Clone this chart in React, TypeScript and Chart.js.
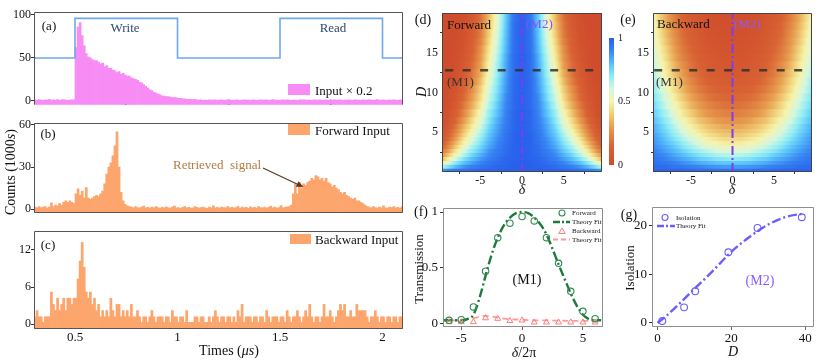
import React, { useEffect, useRef } from "react";
import { Chart, registerables } from "chart.js";

Chart.register(...registerables);

const SERIF = "'Liberation Serif', 'Times New Roman', Times, serif";

// ---------------- (a)-(c): photon-count histograms, bins of 0.01 µs ----------------
const BIN_FIRST = 0.305; // centre of first bin (µs)
const BIN_STEP = 0.01;
const TIME_TICKS = [0.5, 1, 1.5, 2];

const inputCounts = [
  1.2, 0.8, 1.5, 1, 0.6, 1.3, 1, 1.8, 0.9, 1.2, 1, 1.5, 0.7, 1.2, 1.6, 1, 0.8, 1.3, 1.1, 1.6,
  62, 86, 91, 76, 64, 55, 51, 50, 48, 47,
  47, 45, 43, 44, 40, 41, 38, 38, 36, 35,
  33, 34, 31, 32, 30, 29, 29, 27, 26, 25,
  24, 22, 21, 19, 17, 15, 13, 12, 10, 9,
  8, 7, 6, 5.5, 5, 5, 4.5, 4, 4, 3.5,
  3, 3, 2.5, 2.5, 2, 2, 2, 1.5, 1.8, 1.2,
  1, 1.3, 0.8, 1.1, 0.7, 1.2, 1, 0.9, 1.4, 0.8,
  1, 1.2, 0.6, 1, 1.3, 0.9, 1.1, 0.8, 1.2, 1,
  0.7, 1.1, 1.4, 0.9, 1, 0.8, 1.2, 1, 0.6, 1.1,
  1.3, 0.9, 1, 1.2, 0.8, 1, 1.5, 0.9, 1.1, 0.7,
  1, 1.2, 0.9, 1.3, 1, 0.8, 1.1, 1, 0.6, 1.2,
  1, 1.4, 0.9, 1, 1.1, 0.8, 1.2, 1, 0.9, 1.3,
  0.8, 1, 1.2, 0.7, 1.1, 1, 1.3, 0.9, 1, 1.2,
  0.8, 1.1, 1, 1.4, 0.9, 0.7, 1.2, 1, 1.1, 0.8,
  1.3, 1, 0.9, 1.2, 1, 0.8, 1.1, 1.5, 0.9, 1,
  1.2, 0.8, 1, 1.1, 0.9, 1.3, 1, 0.7, 1.2, 1,
];

const forwardCounts = [
  1.5, 1, 2, 1, 1.5, 2, 0.8, 1.5,
  4.5, 2, 3, 2.5, 4, 3, 5, 6, 5, 6, 5, 4,
  11, 14.5, 10, 13, 8, 15.5, 8, 7, 8, 9,
  10, 9, 11, 13, 18, 25, 30, 33, 38, 45,
  55, 30, 12, 6, 3.5, 2.5,
  2, 1.5, 1, 2, 1.2, 0.8, 1.5, 2.2, 1, 1.3,
  0.8, 1.6, 1, 2, 1.2, 0.7, 1.4, 1, 1.8, 1.1,
  0.9, 1.5, 2.3, 1, 1.2, 0.6, 1.4, 1.9, 1, 1.3,
  0.8, 1.1, 2, 1.4, 0.9, 1.2, 1.6, 1, 0.7, 1.5,
  1.1, 2.4, 1, 1.3, 0.8, 1.6, 1.2, 1, 1.9, 0.9,
  1.4, 1, 1.2, 2.1, 0.8, 1.5, 1, 1.3, 0.7, 1.8,
  1.1, 1.4, 0.9, 2, 1.2, 1, 1.6, 0.8, 1.3, 2.2,
  1, 1.5, 0.9, 1.2, 2.6, 1, 1.4, 1.7, 2,
  3, 11, 18, 11, 19, 15, 18, 17, 19, 20,
  22, 21, 24, 23, 21, 22, 20, 22, 19, 18,
  16, 17, 15, 14, 12, 11, 12, 10, 9, 8,
  7, 8, 6, 6, 5, 4, 3, 2,
  1.5, 1, 2, 1.2, 0.8, 1.6, 1, 2.4, 1.1, 0.9, 1.5, 1.2, 2, 1, 1.4, 0.8, 1.7,
];

const backwardCounts = [
  1.2, 2.2, 1.2, 1.2, 0.3, 1.2, 1.2, 1.2, 5.2, 3.2,
  2.2, 4.2, 2.2, 3.2, 4.2, 2.2, 4.2, 4.2, 3.2, 4.2,
  4.2, 7.3, 10.2, 13.2, 9.2, 5.2, 4.2, 5.2, 3.2, 4.2,
  2.2, 3.2, 1.2, 2.2, 1.2, 2.2, 1.2, 4.2, 2.2, 1.2,
  3.2, 3.2, 1.2, 2.2, 1.2, 2.2, 1.2, 3.2, 1.2, 1.2,
  2.2, 1.2, 0.3, 1.2, 1.2, 0.3, 1.2, 2.2, 1.2, 0.3,
  1.2, 1.2, 1.2, 0.3, 1.2, 1.2, 0.3, 2.2, 1.2, 1.2,
  0.3, 1.2, 1.2, 0.3, 2.2, 0.3, 0.3, 0.3, 1.2, 1.2,
  0.3, 1.2, 1.2, 0.3, 0.3, 1.2, 0.3, 1.2, 2.2, 1.2,
  0.3, 1.2, 1.2, 0.3, 1.2, 1.2, 0.3, 1.2, 0.3, 2.2,
  1.2, 3.2, 0.3, 1.2, 1.2, 1.2, 0.3, 1.2, 1.2, 0.3,
  1.2, 1.2, 0.3, 2.2, 1.2, 0.3, 1.2, 1.2, 1.2, 0.3,
  1.2, 1.2, 0.3, 2.2, 1.2, 0.3, 1.2, 1.2, 2.2, 1.2,
  0.3, 1.2, 2.2, 1.2, 3.2, 1.2, 0.3, 1.2, 1.2, 0.3,
  1.2, 3.2, 1.2, 1.2, 2.2, 1.2, 0.3, 1.2, 2.2, 3.2,
  2.2, 3.2, 1.2, 1.2, 2.2, 1.2, 1.2, 3.2, 2.2, 2.2,
  2.2, 2.2, 1.2, 0.3, 1.2, 1.2, 2.2, 1.2, 0.3, 1.2,
  1.2, 0.3, 1.2, 1.2, 0.3, 1.2, 1.2, 0.3, 1.2, 1.2,
];

// write / read control pulse in (a)
const pulseTimes = [0.3, 0.5, 0.5, 1.0, 1.0, 1.5, 1.5, 2.0, 2.0, 2.1];
const pulseLevels = [50, 50, 96, 96, 50, 50, 96, 96, 50, 50];

// ---------------- (d),(e): transmission maps (rows of D, columns |δ| = 0..10) ----------------
const HEAT_D = [0.25, 0.75, 1.25, 1.75, 2.25, 2.75, 3.25, 3.75, 4.25, 4.75, 5.25, 5.75, 6.5, 7.5, 8.5, 9.5, 10.5, 11.5, 12.5, 13.5, 14.5, 15.5, 16.5, 17.5, 18.5, 19.5];
const HEAT_DELTA = [0, 1, 2, 3, 4, 5, 6, 7, 8, 9, 10];

const forwardMap = [
  [1, 1, 1, .99, .99, .98, .97, .95, .93, .89, .84],
  [1, 1, .99, .98, .96, .94, .91, .87, .80, .71, .59],
  [1, 1, .98, .96, .94, .90, .85, .79, .70, .56, .42],
  [1, .99, .98, .95, .91, .86, .80, .72, .60, .45, .29],
  [1, .99, .97, .93, .89, .82, .75, .65, .52, .36, .21],
  [1, .99, .96, .92, .87, .78, .70, .59, .45, .28, .15],
  [1, .99, .96, .90, .84, .75, .66, .54, .39, .22, .10],
  [1, .99, .95, .89, .82, .72, .61, .49, .34, .18, .07],
  [1, .99, .94, .88, .80, .69, .58, .45, .29, .14, .05],
  [1, .99, .94, .86, .78, .66, .54, .41, .25, .11, .04],
  [1, .98, .93, .85, .76, .63, .51, .37, .22, .09, .03],
  [1, .98, .92, .84, .74, .60, .47, .34, .19, .07, .02],
  [1, .98, .91, .82, .71, .56, .43, .29, .15, .05, .01],
  [1, .98, .90, .79, .68, .52, .38, .24, .11, .03, .01],
  [1, .97, .89, .77, .64, .47, .33, .20, .09, .02, 0],
  [1, .97, .88, .74, .61, .43, .29, .16, .06, .01, 0],
  [1, .97, .86, .72, .58, .40, .26, .14, .05, .01, 0],
  [1, .97, .85, .70, .55, .36, .22, .11, .04, 0, 0],
  [1, .96, .84, .68, .52, .33, .20, .09, .03, 0, 0],
  [1, .96, .83, .66, .50, .30, .17, .08, .02, 0, 0],
  [1, .96, .82, .64, .47, .28, .15, .06, .01, 0, 0],
  [1, .95, .80, .62, .45, .26, .13, .05, .01, 0, 0],
  [1, .95, .79, .60, .42, .23, .12, .04, .01, 0, 0],
  [1, .95, .78, .58, .40, .21, .10, .04, 0, 0, 0],
  [1, .95, .77, .56, .38, .20, .09, .03, 0, 0, 0],
  [1, .94, .76, .55, .36, .18, .08, .02, 0, 0, 0],
];

const backwardMap = [
  [.95, .95, .95, .96, .96, .97, .98, .98, .99, .99, .99],
  [.86, .86, .87, .88, .90, .91, .93, .94, .96, .97, .98],
  [.78, .78, .79, .81, .83, .86, .88, .91, .93, .95, .96],
  [.70, .71, .72, .75, .77, .81, .84, .87, .90, .93, .95],
  [.64, .64, .66, .69, .72, .76, .80, .84, .88, .91, .94],
  [.58, .58, .60, .63, .67, .71, .76, .81, .85, .89, .92],
  [.52, .53, .55, .58, .62, .67, .72, .78, .83, .87, .91],
  [.47, .48, .50, .53, .58, .63, .69, .75, .80, .85, .90],
  [.43, .43, .46, .49, .54, .59, .65, .72, .78, .84, .88],
  [.39, .39, .42, .45, .50, .56, .62, .69, .76, .82, .87],
  [.35, .36, .38, .41, .46, .52, .59, .66, .74, .80, .86],
  [.32, .32, .35, .38, .43, .49, .56, .64, .72, .79, .85],
  [.27, .28, .30, .34, .38, .45, .52, .60, .69, .76, .83],
  [.22, .23, .25, .28, .33, .40, .47, .56, .65, .73, .80],
  [.18, .19, .21, .24, .29, .35, .43, .52, .61, .70, .78],
  [.15, .16, .17, .20, .25, .31, .39, .48, .58, .67, .76],
  [.12, .13, .14, .17, .21, .27, .35, .44, .54, .64, .74],
  [.10, .10, .12, .14, .18, .24, .32, .41, .51, .62, .72],
  [.08, .09, .10, .12, .16, .21, .29, .38, .48, .59, .70],
  [.07, .07, .08, .10, .14, .19, .26, .35, .46, .57, .68],
  [.06, .06, .07, .09, .12, .17, .23, .32, .43, .54, .66],
  [.05, .05, .06, .07, .10, .15, .21, .30, .41, .52, .64],
  [.04, .04, .05, .06, .09, .13, .19, .28, .38, .50, .62],
  [.03, .03, .04, .05, .08, .12, .17, .26, .36, .48, .60],
  [.02, .03, .03, .04, .07, .10, .16, .24, .34, .46, .58],
  [.02, .02, .03, .04, .06, .09, .14, .22, .32, .44, .57],
];

const M1_D = 12.8;
const M2_DELTA = 0;

// colour map (value -> colour), as on the colour bar
const CMAP_POS = [0, 0.15, 0.3, 0.42, 0.5, 0.6, 0.7, 0.8, 0.9, 1];
const CMAP_RGB = [
  [207, 76, 44], [217, 100, 52], [231, 158, 80], [242, 214, 128], [246, 243, 172],
  [212, 247, 222], [140, 236, 246], [88, 190, 250], [55, 132, 242], [40, 96, 236],
];

// ---------------- (f): transmission vs δ/2π at M1 ----------------
const fDelta = [-6, -5, -4, -3, -2, -1, 0, 1, 2, 3, 4, 5, 6];
const fForward = [0.03, 0.035, 0.15, 0.47, 0.77, 0.9, 0.96, 0.92, 0.77, 0.54, 0.29, 0.11, 0.045];
const fBackward = [0.015, 0.015, 0.015, 0.05, 0.045, 0.025, 0.03, 0.012, 0.012, 0.012, 0.012, 0.012, 0.012];
const fitDelta = [-6.5, -6, -5.5, -5, -4.5, -4, -3.5, -3, -2.5, -2, -1.5, -1, -0.5, 0, 0.5, 1, 1.5, 2, 2.5, 3, 3.5, 4, 4.5, 5, 5.5, 6, 6.5];
const fitForward = [0.03, 0.03, 0.03, 0.03, 0.04, 0.08, 0.23, 0.43, 0.62, 0.77, 0.88, 0.95, 0.99, 1.0, 0.99, 0.95, 0.89, 0.8, 0.67, 0.53, 0.4, 0.27, 0.16, 0.08, 0.04, 0.03, 0.03];
const fitBackward = [0.03, 0.03, 0.03, 0.03, 0.04, 0.05, 0.06, 0.07, 0.065, 0.055, 0.045, 0.04, 0.037, 0.035, 0.032, 0.03, 0.03, 0.03, 0.028, 0.027, 0.026, 0.025, 0.025, 0.025, 0.025, 0.025, 0.025];

// ---------------- (g): isolation vs D at M2 ----------------
const gD = [1.3, 7.2, 10.2, 19.2, 27.1, 39.1];
const gIsolation = [0.4, 3.2, 6.5, 14.5, 19.5, 21.7];
const gFitD = [0, 2, 5, 10, 15, 20, 25, 30, 35, 39];
const gFitIsolation = [0, 1.2, 3.3, 7, 10.7, 14.6, 17.7, 20.2, 21.8, 22.4];

// ---------------- colours ----------------
const PINK = "#f88cf5";
const ORANGE = "#fca56c";
const PULSE = "#6ea8ee";
const GREEN_PT = "#2e8c4e";
const GREEN_LN = "#1d7a3c";
const SALMON_PT = "#ff7e7e";
const SALMON_LN = "#ff9a9a";
const VIOLET = "#6a5cff";

// ---------------- helpers ----------------
type Geo = { cx: number; cy: number; cw: number; ch: number; l: number; t: number; r: number; b: number };

const GEO_A: Geo = { cx: 0, cy: 0, cw: 415, ch: 112, l: 34, t: 12, r: 403, b: 108 };
const GEO_B: Geo = { cx: 0, cy: 112, cw: 415, ch: 108, l: 34, t: 123, r: 403, b: 218 };
const GEO_C: Geo = { cx: 0, cy: 220, cw: 415, ch: 143, l: 34, t: 231, r: 403, b: 329 };
const GEO_D: Geo = { cx: 416, cy: 0, cw: 190, ch: 195, l: 442, t: 13, r: 602, b: 172 };
const GEO_CB: Geo = { cx: 604, cy: 28, cw: 30, ch: 147, l: 609, t: 38, r: 614, b: 167 };
const GEO_E: Geo = { cx: 634, cy: 0, cw: 190, ch: 195, l: 653, t: 13, r: 812, b: 172 };
const GEO_F: Geo = { cx: 416, cy: 195, cw: 207, ch: 168, l: 443, t: 208, r: 603, b: 327 };
const GEO_G: Geo = { cx: 627, cy: 195, cw: 204, ch: 168, l: 652, t: 207, r: 814, b: 327 };

function cmap(v: number) {
  const x = Math.max(0, Math.min(1, v));
  let i = 0;
  while (i < CMAP_POS.length - 2 && x > CMAP_POS[i + 1]) i++;
  const f = (x - CMAP_POS[i]) / (CMAP_POS[i + 1] - CMAP_POS[i]);
  const c = CMAP_RGB[i].map((c0, k) => Math.round(c0 + f * (CMAP_RGB[i + 1][k] - c0)));
  return `rgb(${c[0]},${c[1]},${c[2]})`;
}

function framePlugin(color: string, sides = "tlrb", lw = 1) {
  return {
    id: "frame",
    afterDatasetsDraw(chart: any) {
      const { ctx, chartArea: a } = chart;
      const l = Math.round(a.left) + 0.5, r = Math.round(a.right) - 0.5;
      const t = Math.round(a.top) + 0.5, b = Math.round(a.bottom) - 0.5;
      ctx.save();
      ctx.strokeStyle = color;
      ctx.lineWidth = lw;
      ctx.beginPath();
      if (sides.includes("t")) { ctx.moveTo(l, t); ctx.lineTo(r, t); }
      if (sides.includes("b")) { ctx.moveTo(l, b); ctx.lineTo(r, b); }
      if (sides.includes("l")) { ctx.moveTo(l, t); ctx.lineTo(l, b); }
      if (sides.includes("r")) { ctx.moveTo(r, t); ctx.lineTo(r, b); }
      ctx.stroke();
      ctx.restore();
    },
  };
}

function baseOptions(geo: Geo, scales: any, padLeft = 0, padBottom = 0) {
  return {
    responsive: false,
    maintainAspectRatio: false,
    animation: false,
    devicePixelRatio: 1,
    events: [],
    layout: { padding: { top: geo.t - geo.cy, right: Math.max(0, geo.cx + geo.cw - geo.r), left: padLeft, bottom: padBottom } },
    plugins: { legend: { display: false }, tooltip: { enabled: false } },
    scales,
  };
}

function fixedTicks(values: number[]) {
  return (s: any) => { s.ticks = values.map((v) => ({ value: v })); };
}

function leftAxis(geo: Geo, min: number, max: number, ticks: number[], size = 12, tickLen = 3, pad = 1) {
  return {
    type: "linear", position: "left", min, max, offset: false,
    afterBuildTicks: fixedTicks(ticks),
    afterFit: (s: any) => { s.width = geo.l - geo.cx; },
    grid: { display: true, drawOnChartArea: false, drawTicks: tickLen > 0, tickLength: tickLen, color: "#333", lineWidth: 1 },
    border: { display: false },
    ticks: { font: { family: SERIF, size }, color: "#111", padding: pad, autoSkip: false, callback: (v: any) => String(v) },
  };
}

function bottomAxis(geo: Geo, min: number, max: number, ticks: number[], opts: any = {}) {
  const tickLen = opts.tickLen ?? 0;
  return {
    type: "linear", position: "bottom", min, max, offset: false, z: opts.z ?? 0,
    afterBuildTicks: fixedTicks(ticks),
    afterFit: (s: any) => { s.height = geo.cy + geo.ch - geo.b; },
    grid: { display: true, drawOnChartArea: false, drawTicks: tickLen !== 0, tickLength: tickLen, color: opts.tickColor ?? "#333", lineWidth: opts.tickWidth ?? 1 },
    border: { display: false },
    ticks: {
      display: opts.labels !== false, font: { family: SERIF, size: opts.size ?? 12 }, color: "#111",
      padding: opts.pad ?? 1, maxRotation: 0, autoSkip: false, callback: (v: any) => String(v),
    },
  };
}

function histConfig(geo: Geo, values: number[], color: string, yMin: number, yMax: number, yTicks: number[], showLabels: boolean, extra: any[] = [], frameSides = "tlrb") {
  const bars = values.map((v, i) => ({ x: BIN_FIRST + i * BIN_STEP, y: [yMin, v] }));
  return {
    type: "bar",
    data: {
      datasets: [
        ...extra,
        { type: "bar", data: bars, backgroundColor: color, borderWidth: 0, barPercentage: 1, categoryPercentage: 1, order: 2 },
      ],
    },
    options: baseOptions(geo, {
      x: bottomAxis(geo, 0.3, 2.1, TIME_TICKS, showLabels
        ? { labels: true, size: 13, pad: 1 }
        : { labels: false, tickLen: -5, tickColor: "#000", tickWidth: 1.6, z: 1 }),
      y: leftAxis(geo, yMin, yMax, yTicks, 12, 3, 0),
    }),
    plugins: [framePlugin("#555", frameSides)],
  };
}

function heatGradient(chart: any, row: number[]) {
  const xs = chart.scales.x;
  const span = HEAT_DELTA[HEAT_DELTA.length - 1];
  const p0 = xs.getPixelForValue(-span), p1 = xs.getPixelForValue(span);
  if (!Number.isFinite(p0) || !Number.isFinite(p1) || p0 === p1) return "#cccccc";
  const g = chart.ctx.createLinearGradient(p0, 0, p1, 0);
  const pos: number[] = [], val: number[] = [];
  for (let j = HEAT_DELTA.length - 1; j > 0; j--) { pos.push(-HEAT_DELTA[j]); val.push(row[j]); }
  for (let j = 0; j < HEAT_DELTA.length; j++) { pos.push(HEAT_DELTA[j]); val.push(row[j]); }
  const off = (d: number) => Math.max(0, Math.min(1, (d + span) / (2 * span)));
  for (let k = 0; k < pos.length; k++) {
    g.addColorStop(off(pos[k]), cmap(val[k]));
    if (k + 1 < pos.length) {
      const a = val[k], b = val[k + 1];
      for (const s of CMAP_POS) {
        if ((s - a) * (s - b) < 0) g.addColorStop(off(pos[k] + ((s - a) / (b - a)) * (pos[k + 1] - pos[k])), cmap(s));
      }
    }
  }
  return g;
}

function heatConfig(geo: Geo, map: number[][], dashOffset: number) {
  return {
    type: "bar",
    data: {
      datasets: [
        {
          type: "line", data: [{ x: -10, y: M1_D }, { x: 10, y: M1_D }],
          borderColor: "rgba(48,48,48,0.85)", borderWidth: 2.6, borderDash: [8, 9.5], borderDashOffset: dashOffset,
          pointRadius: 0, clip: 0, order: 0,
        },
        {
          type: "line", data: [{ x: M2_DELTA, y: 0 }, { x: M2_DELTA, y: 20 }],
          borderColor: "#7c3cf2", borderWidth: 2, borderDash: [9, 3, 2, 3],
          pointRadius: 0, clip: 0, order: 0,
        },
        {
          type: "bar", indexAxis: "y",
          data: HEAT_D.map((d) => ({ x: [-10, 10], y: d })),
          backgroundColor: (ctx: any) => {
            if (ctx.type !== "data" || !ctx.chart.scales || !ctx.chart.scales.x) return "#cccccc";
            return heatGradient(ctx.chart, map[ctx.dataIndex]);
          },
          barThickness: "flex", barPercentage: 1, categoryPercentage: 1, borderWidth: 0, inflateAmount: 0.8, order: 1,
        },
      ],
    },
    options: baseOptions(geo, {
      x: bottomAxis(geo, -9.6, 9.6, [-5, 0, 5], { size: 12, pad: 0, tickLen: 2 }),
      y: leftAxis(geo, 0, 20, [5, 10, 15], 12, 2, 2),
    }),
    plugins: [framePlugin("#444")],
  };
}

function colorbarConfig(geo: Geo) {
  const opts: any = baseOptions(geo, {
    x: { type: "category", display: false },
    y: {
      type: "linear", position: "right", min: 0, max: 1,
      afterBuildTicks: fixedTicks([0, 0.5, 1]),
      afterFit: (s: any) => { s.width = geo.cx + geo.cw - geo.r; },
      grid: { display: false, drawTicks: false },
      border: { display: false },
      ticks: { font: { family: SERIF, size: 10 }, color: "#111", padding: 4, callback: (v: any) => String(v) },
    },
  });
  opts.layout = { padding: { top: geo.t - geo.cy, left: geo.l - geo.cx, right: 0, bottom: geo.cy + geo.ch - geo.b } };
  return {
    type: "bar",
    data: {
      labels: [""],
      datasets: [{
        data: [[0, 1]],
        backgroundColor: (ctx: any) => {
          const ys = ctx.chart.scales && ctx.chart.scales.y;
          if (!ys) return "#cccccc";
          const a = ys.getPixelForValue(0), b = ys.getPixelForValue(1);
          if (!Number.isFinite(a) || !Number.isFinite(b) || a === b) return "#cccccc";
          const g = ctx.chart.ctx.createLinearGradient(0, a, 0, b);
          CMAP_POS.forEach((p) => g.addColorStop(p, cmap(p)));
          return g;
        },
        borderWidth: 0, barPercentage: 1, categoryPercentage: 1,
      }],
    },
    options: opts,
  };
}

function pts(xs: number[], ys: number[]) {
  return xs.map((x, i) => ({ x, y: ys[i] }));
}

function fConfig(geo: Geo) {
  return {
    type: "line",
    data: {
      datasets: [
        { data: pts(fitDelta, fitForward), borderColor: GREEN_LN, borderWidth: 2.4, borderDash: [9, 3, 2, 3], pointRadius: 0, cubicInterpolationMode: "monotone", order: 2 },
        { data: pts(fitDelta, fitBackward), borderColor: SALMON_LN, borderWidth: 1.8, borderDash: [6, 4], pointRadius: 0, cubicInterpolationMode: "monotone", order: 2 },
        { data: pts(fDelta, fForward), showLine: false, pointStyle: "circle", pointRadius: 3.2, pointBorderWidth: 1.1, pointBorderColor: GREEN_PT, pointBackgroundColor: "rgba(255,255,255,0)", order: 0 },
        { data: pts(fDelta, fBackward), showLine: false, pointStyle: "triangle", pointRadius: 3.4, pointBorderWidth: 1, pointBorderColor: SALMON_PT, pointBackgroundColor: "rgba(255,255,255,0)", order: 0 },
      ],
    },
    options: baseOptions(geo, {
      x: bottomAxis(geo, -6.5, 6.65, [-5, 0, 5], { size: 13, pad: 1, tickLen: 3, tickColor: "#666" }),
      y: leftAxis(geo, -0.03, 1.036, [0, 0.5, 1], 13, 3, 2),
    }),
    plugins: [framePlugin("#8e8e8e")],
  };
}

function gConfig(geo: Geo) {
  return {
    type: "line",
    data: {
      datasets: [
        { data: pts(gFitD, gFitIsolation), borderColor: VIOLET, borderWidth: 2.4, borderDash: [9, 3, 2, 3], pointRadius: 0, cubicInterpolationMode: "monotone", order: 2 },
        { data: pts(gD, gIsolation), showLine: false, pointStyle: "circle", pointRadius: 3.4, pointBorderWidth: 1.1, pointBorderColor: VIOLET, pointBackgroundColor: "rgba(255,255,255,0)", order: 0 },
      ],
    },
    options: baseOptions(geo, {
      x: bottomAxis(geo, -1.5, 42.4, [0, 20, 40], { size: 13, pad: 1, tickLen: 3, tickColor: "#666" }),
      y: leftAxis(geo, -0.83, 23.8, [0, 10, 20], 13, 3, 2),
    }),
    plugins: [framePlugin("#8e8e8e")],
  };
}

function ChartCanvas({ geo, build }: { geo: Geo; build: () => any }) {
  const ref = useRef<HTMLCanvasElement | null>(null);
  useEffect(() => {
    let chart: any = null;
    try {
      chart = new Chart(ref.current as HTMLCanvasElement, build());
    } catch (e) {
      console.error(e);
    }
    return () => { if (chart) chart.destroy(); };
  }, []);
  return (
    <canvas ref={ref} width={geo.cw} height={geo.ch}
      style={{ position: "absolute", left: geo.cx, top: geo.cy, width: geo.cw, height: geo.ch }} />
  );
}

function Overlay() {
  const t = (x: number, y: number, s: any, size = 13, extra: any = {}) => (
    <text x={x} y={y} fontSize={size} dominantBaseline="central" {...extra}>{s}</text>
  );
  return (
    <svg width={831} height={363} style={{ position: "absolute", left: 0, top: 0 }} fontFamily={SERIF} fill="#111">
      {/* (a) */}
      {t(49, 25, "(a)", 13, { textAnchor: "middle" })}
      {t(125, 27, "Write", 13, { textAnchor: "middle", fill: "#2f4a72" })}
      {t(333, 27, "Read", 13, { textAnchor: "middle", fill: "#2f4a72" })}
      <rect x={288} y={84} width={22} height={11} fill={PINK} />
      {t(315, 90, "Input × 0.2", 13)}
      {/* (b) */}
      {t(48, 133, "(b)", 13, { textAnchor: "middle" })}
      <rect x={288} y={124} width={22} height={11} fill={ORANGE} />
      {t(315, 130, "Forward Input", 13)}
      {t(173, 164, "Retrieved\u00a0 signal", 13, { fill: "#b07d42" })}
      <line x1={263} y1={168} x2={298} y2={184.5} stroke="#5a3b1e" strokeWidth={1.2} />
      <polygon points="303.5,187 295.9,186.7 298.5,181.3" fill="#5a3b1e" />
      {/* (c) */}
      {t(48, 244, "(c)", 13, { textAnchor: "middle" })}
      <rect x={290} y={234} width={21} height={10} fill={ORANGE} />
      {t(315, 239.5, "Backward Input", 13)}
      <text x={10} y={172} fontSize={14} textAnchor="middle" dominantBaseline="central" transform="rotate(-90 10 172)">
        Counts (1000<tspan fontStyle="italic">s</tspan>)
      </text>
      <text x={229} y={350} fontSize={14} textAnchor="middle" dominantBaseline="central">
        Times (<tspan fontStyle="italic">μs</tspan>)
      </text>
      {/* (d) */}
      {t(423, 19, "(d)", 14, { textAnchor: "middle" })}
      {t(447, 24, "Forward", 13)}
      {t(526, 23, "(M2)", 13, { fill: "#8c4bff" })}
      {t(447, 81, "(M1)", 13, { fill: "#333" })}
      <text x={421} y={92} fontSize={14} fontStyle="italic" textAnchor="middle" dominantBaseline="central" transform="rotate(-90 421 92)">D</text>
      {t(522, 189, "δ", 14, { textAnchor: "middle", fontStyle: "italic" })}
      {/* (e) */}
      {t(628, 19, "(e)", 14, { textAnchor: "middle" })}
      {t(657, 23, "Backward", 13)}
      {t(734, 23, "(M2)", 13, { fill: "#8a5cf5" })}
      {t(656, 81, "(M1)", 13, { fill: "#333" })}
      {t(732, 189, "δ", 14, { textAnchor: "middle", fontStyle: "italic" })}
      {/* (f) */}
      {t(421, 211, "(f)", 14, { textAnchor: "middle" })}
      <text x={418} y={269} fontSize={13} textAnchor="middle" dominantBaseline="central" transform="rotate(-90 418 269)">Transmission</text>
      {t(527, 279, "(M1)", 14, { textAnchor: "middle" })}
      <text x={524} y={352} fontSize={14} textAnchor="middle" dominantBaseline="central">
        <tspan fontStyle="italic">δ</tspan>/2π
      </text>
      <circle cx={562} cy={213} r={3} fill="none" stroke={GREEN_PT} strokeWidth={1.1} />
      <line x1={553} y1={222} x2={570} y2={222} stroke={GREEN_LN} strokeWidth={2.4} strokeDasharray="7 2 2 2" />
      <polygon points="562,228 565.2,233.5 558.8,233.5" fill="none" stroke={SALMON_PT} strokeWidth={1} />
      <line x1={553} y1={239.5} x2={570} y2={239.5} stroke={SALMON_LN} strokeWidth={1.8} strokeDasharray="5 3" />
      {t(572, 213, "Forward", 7)}
      {t(572, 222, "Theory Fit", 7)}
      {t(572, 231, "Backward", 7)}
      {t(572, 239.5, "Theory Fit", 7)}
      {/* (g) */}
      {t(629, 214, "(g)", 14, { textAnchor: "middle" })}
      <text x={629} y={268} fontSize={13} textAnchor="middle" dominantBaseline="central" transform="rotate(-90 629 268)">Isolation</text>
      {t(760, 280, "(M2)", 14, { textAnchor: "middle", fill: "#8a5cff" })}
      {t(733, 351, "D", 14, { textAnchor: "middle", fontStyle: "italic" })}
      <circle cx={665} cy={217.5} r={3} fill="none" stroke={VIOLET} strokeWidth={1.1} />
      <line x1={657} y1={226} x2={675} y2={226} stroke={VIOLET} strokeWidth={2.4} strokeDasharray="7 2 2 2" />
      {t(676, 217.5, "Isolation", 7)}
      {t(676, 226, "Theory Fit", 7)}
    </svg>
  );
}

export default function App() {
  const pulse = {
    type: "line", data: pts(pulseTimes, pulseLevels), borderColor: PULSE, borderWidth: 1.6,
    pointRadius: 0, order: 0, clip: 0,
  };
  return (
    <div style={{ position: "absolute", left: 0, top: 0, width: 831, height: 363, background: "#fff", overflow: "hidden" }}>
      <ChartCanvas geo={GEO_A} build={() => histConfig(GEO_A, inputCounts, PINK, -4.5, 103.4, [0, 50, 100], false, [pulse], "tlr")} />
      <ChartCanvas geo={GEO_B} build={() => histConfig(GEO_B, forwardCounts, ORANGE, -2.5, 61.3, [0, 30, 60], false)} />
      <ChartCanvas geo={GEO_C} build={() => histConfig(GEO_C, backwardCounts, ORANGE, -0.77, 15.05, [0, 6, 12], true)} />
      <ChartCanvas geo={GEO_D} build={() => heatConfig(GEO_D, forwardMap, 11)} />
      <ChartCanvas geo={GEO_CB} build={() => colorbarConfig(GEO_CB)} />
      <ChartCanvas geo={GEO_E} build={() => heatConfig(GEO_E, backwardMap, 13)} />
      <ChartCanvas geo={GEO_F} build={() => fConfig(GEO_F)} />
      <ChartCanvas geo={GEO_G} build={() => gConfig(GEO_G)} />
      <Overlay />
    </div>
  );
}
